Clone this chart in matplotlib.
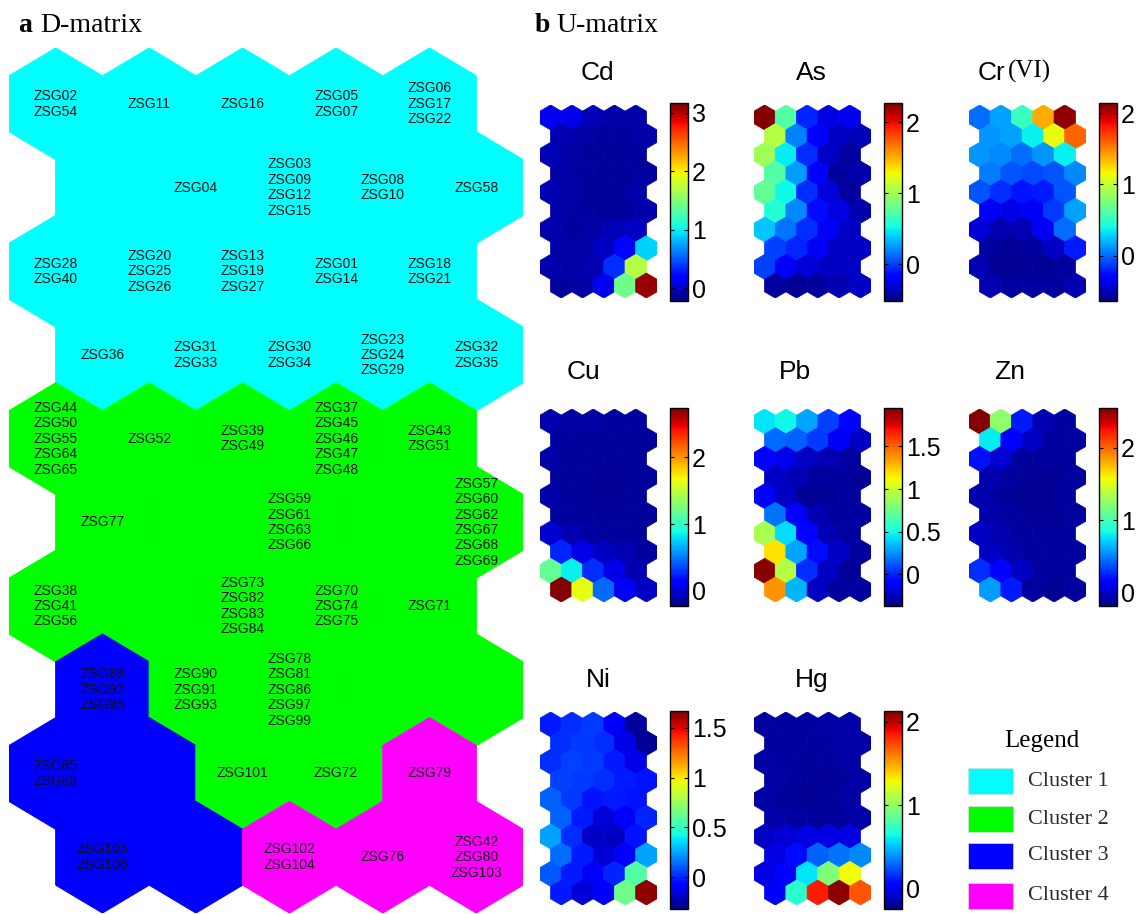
import numpy as np
import matplotlib
matplotlib.use('Agg')
from matplotlib import pyplot as plt
from matplotlib.patches import RegularPolygon, Rectangle
from matplotlib.collections import PatchCollection
from matplotlib.colors import Normalize

# D-matrix: cluster of every map unit (10 rows x 5 columns, top row first)
clusters = [
    [1, 1, 1, 1, 1],
    [1, 1, 1, 1, 1],
    [1, 1, 1, 1, 1],
    [1, 1, 1, 1, 1],
    [2, 2, 2, 2, 2],
    [2, 2, 2, 2, 2],
    [2, 2, 2, 2, 2],
    [3, 2, 2, 2, 2],
    [3, 3, 2, 2, 4],
    [3, 3, 4, 4, 4],
]

# samples that fall in each map unit
samples = [
    ['ZSG02\nZSG54', 'ZSG11', 'ZSG16', 'ZSG05\nZSG07', 'ZSG06\nZSG17\nZSG22'],
    ['', 'ZSG04', 'ZSG03\nZSG09\nZSG12\nZSG15', 'ZSG08\nZSG10', 'ZSG58'],
    ['ZSG28\nZSG40', 'ZSG20\nZSG25\nZSG26', 'ZSG13\nZSG19\nZSG27', 'ZSG01\nZSG14', 'ZSG18\nZSG21'],
    ['ZSG36', 'ZSG31\nZSG33', 'ZSG30\nZSG34', 'ZSG23\nZSG24\nZSG29', 'ZSG32\nZSG35'],
    ['ZSG44\nZSG50\nZSG55\nZSG64\nZSG65', 'ZSG52', 'ZSG39\nZSG49',
     'ZSG37\nZSG45\nZSG46\nZSG47\nZSG48', 'ZSG43\nZSG51'],
    ['ZSG77', '', 'ZSG59\nZSG61\nZSG63\nZSG66', '', 'ZSG57\nZSG60\nZSG62\nZSG67\nZSG68\nZSG69'],
    ['ZSG38\nZSG41\nZSG56', '', 'ZSG73\nZSG82\nZSG83\nZSG84', 'ZSG70\nZSG74\nZSG75', 'ZSG71'],
    ['ZSG89\nZSG92\nZSG95', 'ZSG90\nZSG91\nZSG93', 'ZSG78\nZSG81\nZSG86\nZSG97\nZSG99', '', ''],
    ['ZSG85\nZSG88', '', 'ZSG101', 'ZSG72', 'ZSG79'],
    ['ZSG105\nZSG106', '', 'ZSG102\nZSG104', 'ZSG76', 'ZSG42\nZSG80\nZSG103'],
]

cluster_names = ['Cluster 1', 'Cluster 2', 'Cluster 3', 'Cluster 4']
cluster_colors = ['#00ffff', '#00ff00', '#0000ff', '#ff00ff']

# component planes
elements = ['Cd', 'As', 'Cr', 'Cu', 'Pb', 'Zn', 'Ni', 'Hg']

cd = [[0.12, 0.09, -0.05, -0.10, -0.10],
      [-0.07, -0.11, -0.12, -0.12, -0.10],
      [-0.06, -0.11, -0.14, -0.14, -0.12],
      [-0.09, -0.12, -0.14, -0.14, -0.12],
      [-0.07, -0.11, -0.14, -0.14, -0.10],
      [-0.09, -0.12, -0.13, -0.12, -0.08],
      [-0.08, -0.12, -0.11, -0.05, -0.02],
      [-0.10, -0.11, -0.02, 0.22, 0.90],
      [-0.08, -0.10, -0.07, 0.36, 1.71],
      [-0.12, -0.11, 0.12, 1.41, 3.10]]

as_ = [[2.25, 0.74, -0.07, -0.27, -0.24],
       [1.07, 0.18, -0.19, -0.35, -0.38],
       [1.00, 0.48, -0.05, -0.35, -0.44],
       [0.74, 0.26, -0.19, -0.44, -0.41],
       [0.79, 0.51, -0.05, -0.30, -0.44],
       [0.57, 0.21, -0.14, -0.27, -0.41],
       [0.37, 0.15, -0.05, -0.23, -0.35],
       [0.01, -0.07, -0.23, -0.35, -0.35],
       [0.01, -0.23, -0.31, -0.35, -0.35],
       [-0.44, -0.46, -0.44, -0.39, -0.35]]

cr = [[0.01, 0.15, 0.53, 1.39, 2.10],
      [0.12, 0.15, 0.37, 1.12, 1.59],
      [0.12, 0.09, 0.01, 0.12, 0.37],
      [0.06, -0.05, -0.08, -0.05, 0.09],
      [-0.05, -0.16, -0.24, -0.21, -0.05],
      [-0.34, -0.38, -0.34, -0.13, 0.15],
      [-0.42, -0.51, -0.51, -0.34, 0.01],
      [-0.55, -0.57, -0.55, -0.46, -0.21],
      [-0.51, -0.57, -0.57, -0.57, -0.55],
      [-0.51, -0.55, -0.55, -0.55, -0.51]]

cu = [[-0.11, -0.13, -0.13, -0.14, -0.14],
      [-0.14, -0.15, -0.15, -0.16, -0.15],
      [-0.13, -0.15, -0.16, -0.16, -0.16],
      [-0.15, -0.16, -0.17, -0.17, -0.16],
      [-0.12, -0.15, -0.17, -0.17, -0.16],
      [-0.14, -0.15, -0.16, -0.16, -0.16],
      [-0.01, -0.10, -0.14, -0.15, -0.16],
      [0.25, 0.04, -0.05, -0.10, -0.14],
      [1.17, 0.84, 0.27, 0.04, -0.10],
      [2.72, 1.64, 0.45, 0.08, -0.05]]

pb = [[0.44, 0.49, 0.30, 0.07, -0.07],
      [0.16, 0.14, 0.05, -0.13, -0.23],
      [-0.09, -0.16, -0.23, -0.27, -0.30],
      [-0.23, -0.27, -0.30, -0.30, -0.32],
      [-0.11, -0.23, -0.32, -0.32, -0.30],
      [0.19, -0.11, -0.27, -0.30, -0.30],
      [0.91, 0.42, -0.09, -0.27, -0.30],
      [1.18, 0.30, -0.06, -0.23, -0.30],
      [1.93, 0.95, 0.02, -0.23, -0.32],
      [1.37, 0.33, -0.23, -0.30, -0.30]]

zn = [[2.53, 1.24, 0.23, -0.06, -0.10],
      [0.80, 0.15, -0.02, -0.10, -0.10],
      [0.20, 0.02, -0.10, -0.10, -0.10],
      [-0.07, -0.10, -0.12, -0.12, -0.10],
      [-0.07, -0.10, -0.13, -0.13, -0.10],
      [-0.07, -0.10, -0.12, -0.12, -0.10],
      [-0.02, -0.07, -0.10, -0.10, -0.10],
      [-0.02, -0.07, -0.10, -0.10, -0.10],
      [0.28, 0.17, -0.02, -0.10, -0.10],
      [0.58, 0.23, -0.10, -0.13, -0.10]]

ni = [[-0.02, 0.02, 0.04, -0.11, -0.26],
      [0.02, 0.04, 0.02, -0.14, -0.28],
      [0.02, 0.06, 0.04, -0.02, -0.14],
      [0.06, 0.04, 0.02, -0.02, -0.04],
      [0.12, 0.04, -0.04, -0.02, -0.04],
      [0.12, -0.02, -0.17, -0.11, 0.00],
      [0.24, 0.02, -0.20, -0.20, -0.04],
      [0.14, -0.02, -0.17, -0.11, 0.24],
      [0.10, -0.02, -0.11, 0.00, 0.58],
      [-0.02, -0.17, -0.11, 0.64, 1.64]]

hg = [[-0.17, -0.17, -0.17, -0.16, -0.15],
      [-0.17, -0.17, -0.17, -0.16, -0.15],
      [-0.16, -0.17, -0.18, -0.17, -0.16],
      [-0.16, -0.18, -0.19, -0.18, -0.16],
      [-0.16, -0.18, -0.19, -0.18, -0.16],
      [-0.16, -0.17, -0.18, -0.17, -0.15],
      [-0.10, -0.06, -0.03, -0.03, -0.03],
      [-0.03, 0.08, 0.28, 0.33, 0.38],
      [-0.03, 0.04, 0.59, 0.95, 1.28],
      [0.01, 0.71, 1.85, 2.10, 1.70]]

planes = [cd, as_, cr, cu, pb, zn, ni, hg]
cbar_limits = [(-0.22, 3.17), (-0.52, 2.27), (-0.63, 2.14), (-0.23, 2.74),
               (-0.37, 1.95), (-0.18, 2.55), (-0.32, 1.67), (-0.24, 2.13)]
cbar_ticks = [[0, 1, 2, 3], [0, 1, 2], [0, 1, 2], [0, 1, 2],
              [0, 0.5, 1, 1.5], [0, 1, 2], [0, 0.5, 1, 1.5], [0, 1, 2]]

W, H = 1148, 914
fig = plt.figure(figsize=(W / 100, H / 100), dpi=100)
sans = 'Liberation Sans'
serif = 'Liberation Serif'


def px_axes(x0, y0, x1, y1):
    return fig.add_axes([x0 / W, 1 - y1 / H, (x1 - x0) / W, (y1 - y0) / H])


s3 = np.sqrt(3)


def hex_centers():
    pts = []
    for r in range(10):
        for c in range(5):
            pts.append((c * s3 + (r % 2) * s3 / 2, -1.5 * r))
    return pts


centers = hex_centers()

# ---- a: D-matrix
ax = px_axes(9, 48, 523, 913)
for i, (x, y) in enumerate(centers):
    r, c = divmod(i, 5)
    col = cluster_colors[clusters[r][c] - 1]
    ax.add_patch(RegularPolygon((x, y), 6, radius=1, facecolor=col, edgecolor=col, lw=0.8))
    if samples[r][c]:
        ax.text(x, y, samples[r][c], ha='center', va='center', fontsize=10,
                family=sans, color='#111111', linespacing=1.13)
ax.set_xlim(-s3 / 2, 5 * s3)
ax.set_ylim(-14.5, 1)
ax.axis('off')

fig.text(18 / W, 1 - 25 / H, 'a', family=serif, weight='bold', fontsize=20, va='center')
fig.text(40 / W, 1 - 25 / H, 'D-matrix', family=serif, fontsize=20, va='center')
fig.text(535 / W, 1 - 25 / H, 'b', family=serif, weight='bold', fontsize=20, va='center')
fig.text(556 / W, 1 - 25 / H, 'U-matrix', family=serif, fontsize=20, va='center')

# ---- b: U-matrix component planes
grid_x = [540, 754, 969]
cbar_x = [670, 884, 1099]
grid_y = [105, 409, 712]
cbar_y = [103, 408, 711]
title_pos = [(597, 73), (811, 73), (1005, 73), (583, 372), (795, 372), (1010, 372),
             (598, 680), (812, 680)]

for k, name in enumerate(elements):
    row, colm = divmod(k, 3)
    gx, gy = grid_x[colm], grid_y[row]
    ax = px_axes(gx, gy, gx + 117, gy + 193)
    vmin, vmax = cbar_limits[k]
    patches = [RegularPolygon(p, 6, radius=1) for p in centers]
    pc = PatchCollection(patches, cmap='jet', norm=Normalize(vmin, vmax),
                         edgecolor='face', linewidth=0.6)
    pc.set_array(np.array(planes[k]).ravel())
    ax.add_collection(pc)
    ax.set_xlim(-s3 / 2, 5 * s3)
    ax.set_ylim(-14.5, 1)
    ax.axis('off')

    cx, cy = cbar_x[colm], cbar_y[row]
    cax = px_axes(cx, cy, cx + 18, cy + 198)
    cb = fig.colorbar(pc, cax=cax, ticks=cbar_ticks[k])
    cb.set_ticklabels(['%g' % t for t in cbar_ticks[k]])
    cb.outline.set_linewidth(1.0)
    cax.tick_params(direction='in', length=3, width=0.8, left=True, right=True,
                    labelsize=18, pad=3)
    for t in cax.get_yticklabels():
        t.set_family(sans)

    tx, ty = title_pos[k]
    if name == 'Cr':
        fig.text(tx / W, 1 - ty / H, 'Cr', family=sans, fontsize=19, ha='right', va='center')
        fig.text((tx + 3) / W, 1 - 71 / H, '(VI)', family=serif, fontsize=18, ha='left', va='center')
    else:
        fig.text(tx / W, 1 - ty / H, name, family=sans, fontsize=19, ha='center', va='center')

# ---- legend
fig.text(1042 / W, 1 - 741 / H, 'Legend', family=serif, fontsize=18, ha='center', va='center')
leg_y = [781, 819, 856, 896]
for name, col, y in zip(cluster_names, cluster_colors, leg_y):
    fig.patches.append(Rectangle((968 / W, 1 - (y + 13) / H), 45 / W, 26 / H,
                                 transform=fig.transFigure, facecolor=col,
                                 edgecolor='#dddddd', lw=0.5))
    fig.text(1028 / W, 1 - y / H, name, family=serif, fontsize=16, color='#2b2b2b', va='center')

fig.savefig('out.png', dpi=100)
